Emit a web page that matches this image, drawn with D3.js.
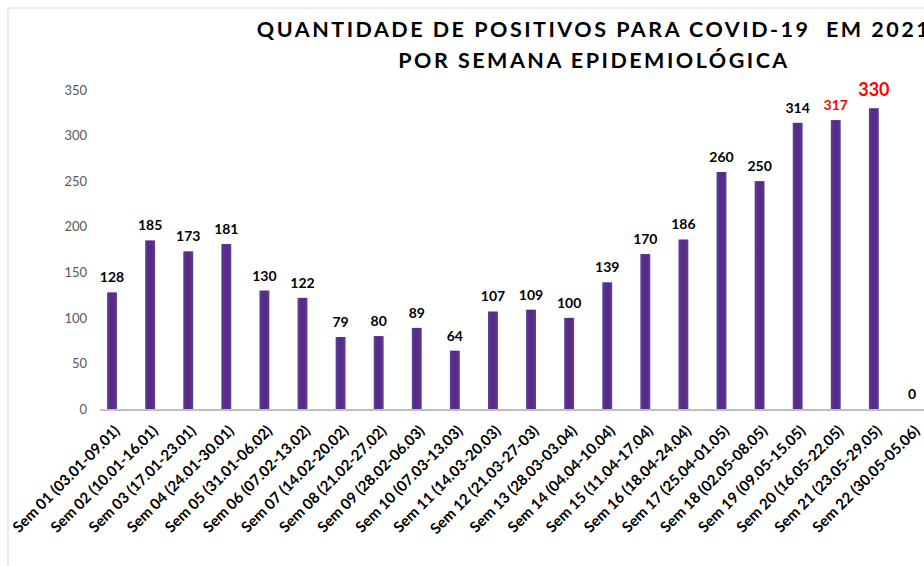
<!DOCTYPE html>
<html>
<head>
<meta charset="utf-8">
<script src="https://cdn.jsdelivr.net/npm/d3@7"></script>
<style>
  body { margin: 0; background: #fff; }
  svg { display: block; }
</style>
</head>
<body>
<script>
// weekly data
const weeks = [
  "Sem 01 (03.01-09.01)", "Sem 02 (10.01-16.01)", "Sem 03 (17.01-23.01)", "Sem 04 (24.01-30.01)",
  "Sem 05 (31.01-06.02)", "Sem 06 (07.02-13.02)", "Sem 07 (14.02-20.02)", "Sem 08 (21.02-27.02)",
  "Sem 09 (28.02-06.03)", "Sem 10 (07.03-13.03)", "Sem 11 (14.03-20.03)", "Sem 12 (21.03-27-03)",
  "Sem 13 (28.03-03.04)", "Sem 14 (04.04-10.04)", "Sem 15 (11.04-17.04)", "Sem 16 (18.04-24.04)",
  "Sem 17 (25.04-01.05)", "Sem 18 (02.05-08.05)", "Sem 19 (09.05-15.05)", "Sem 20 (16.05-22.05)",
  "Sem 21 (23.05-29.05)", "Sem 22 (30.05-05.06)"
];
const positives = [128, 185, 173, 181, 130, 122, 79, 80, 89, 64, 107, 109, 100, 139, 170, 186, 260, 250, 314, 317, 330, 0];
const yTicks = [0, 50, 100, 150, 200, 250, 300, 350];
const titleLines = ["QUANTIDADE DE POSITIVOS PARA COVID-19  EM 2021", "POR SEMANA EPIDEMIOLÓGICA"];

const width = 924;
const height = 566;
const font = "Lato, 'Open Sans', sans-serif";

const svg = d3.select("body").append("svg")
  .attr("width", width)
  .attr("height", height);

// bar gradient (lighter edges like the original)
const grad = svg.append("defs").append("linearGradient")
  .attr("id", "barGrad").attr("x1", "0").attr("x2", "1").attr("y1", "0").attr("y2", "0");
grad.append("stop").attr("offset", "0%").attr("stop-color", "#5147a0");
grad.append("stop").attr("offset", "30%").attr("stop-color", "#5a2a86");
grad.append("stop").attr("offset", "70%").attr("stop-color", "#5a2a86");
grad.append("stop").attr("offset", "100%").attr("stop-color", "#5147a0");

// chart area border (left and top visible)
svg.append("path")
  .attr("d", "M8,566V8H924")
  .attr("fill", "none")
  .attr("stroke", "#d9d9d9")
  .attr("stroke-width", 1);

const x = d3.scaleBand()
  .domain(weeks)
  .range([93, 931])
  .paddingInner(0.74)
  .paddingOuter(0.37);

const y = d3.scaleLinear()
  .domain([0, 350])
  .range([409, 90]);

// y axis labels only
const yAxis = svg.append("g")
  .attr("transform", "translate(87,0)")
  .call(d3.axisLeft(y).tickValues(yTicks).tickSize(0).tickPadding(0));
yAxis.select(".domain").remove();
yAxis.selectAll("text")
  .attr("fill", "#595959")
  .style("font-family", font)
  .style("font-size", "13px");

// bars
svg.selectAll(".bar")
  .data(positives)
  .enter()
  .append("rect")
  .attr("class", "bar")
  .attr("x", (d, i) => x(weeks[i]))
  .attr("y", d => y(d))
  .attr("width", x.bandwidth())
  .attr("height", d => y(0) - y(d))
  .attr("fill", "url(#barGrad)");

// baseline
svg.append("line")
  .attr("x1", 100).attr("x2", width)
  .attr("y1", y(0) + 1).attr("y2", y(0) + 1)
  .attr("stroke", "#bfbfbf")
  .attr("stroke-width", 2);

// value labels (last two weeks highlighted in red)
svg.selectAll(".val")
  .data(positives)
  .enter()
  .append("text")
  .attr("class", "val")
  .attr("x", (d, i) => x(weeks[i]) + x.bandwidth() / 2)
  .attr("y", (d, i) => y(d) - (i === 20 ? 12 : 10))
  .attr("text-anchor", "middle")
  .attr("fill", (d, i) => i >= 19 && i <= 20 ? "#ff0000" : "#000")
  .style("font-family", font)
  .style("font-weight", "bold")
  .style("font-size", (d, i) => i === 20 ? "18px" : "14px")
  .text(d => d);

// x labels, rotated
const xAxis = svg.append("g")
  .attr("transform", `translate(0,${y(0)})`)
  .call(d3.axisBottom(x).tickSize(0).tickPadding(0));
xAxis.select(".domain").remove();
xAxis.selectAll("text")
  .attr("text-anchor", "end")
  .attr("transform", "translate(5,19) rotate(-45)")
  .attr("dy", "0.35em")
  .attr("fill", "#000")
  .style("font-family", font)
  .style("font-weight", "bold")
  .style("font-size", "15px");

// title
svg.append("g").selectAll("text")
  .data(titleLines)
  .enter()
  .append("text")
  .attr("x", 594)
  .attr("y", (d, i) => 37 + i * 31)
  .attr("text-anchor", "middle")
  .style("font-family", font)
  .style("font-weight", "bold")
  .style("font-size", "21.5px")
  .style("letter-spacing", "2.5px")
  .style("white-space", "pre")
  .attr("fill", "#000")
  .text(d => d);
</script>
</body>
</html>
